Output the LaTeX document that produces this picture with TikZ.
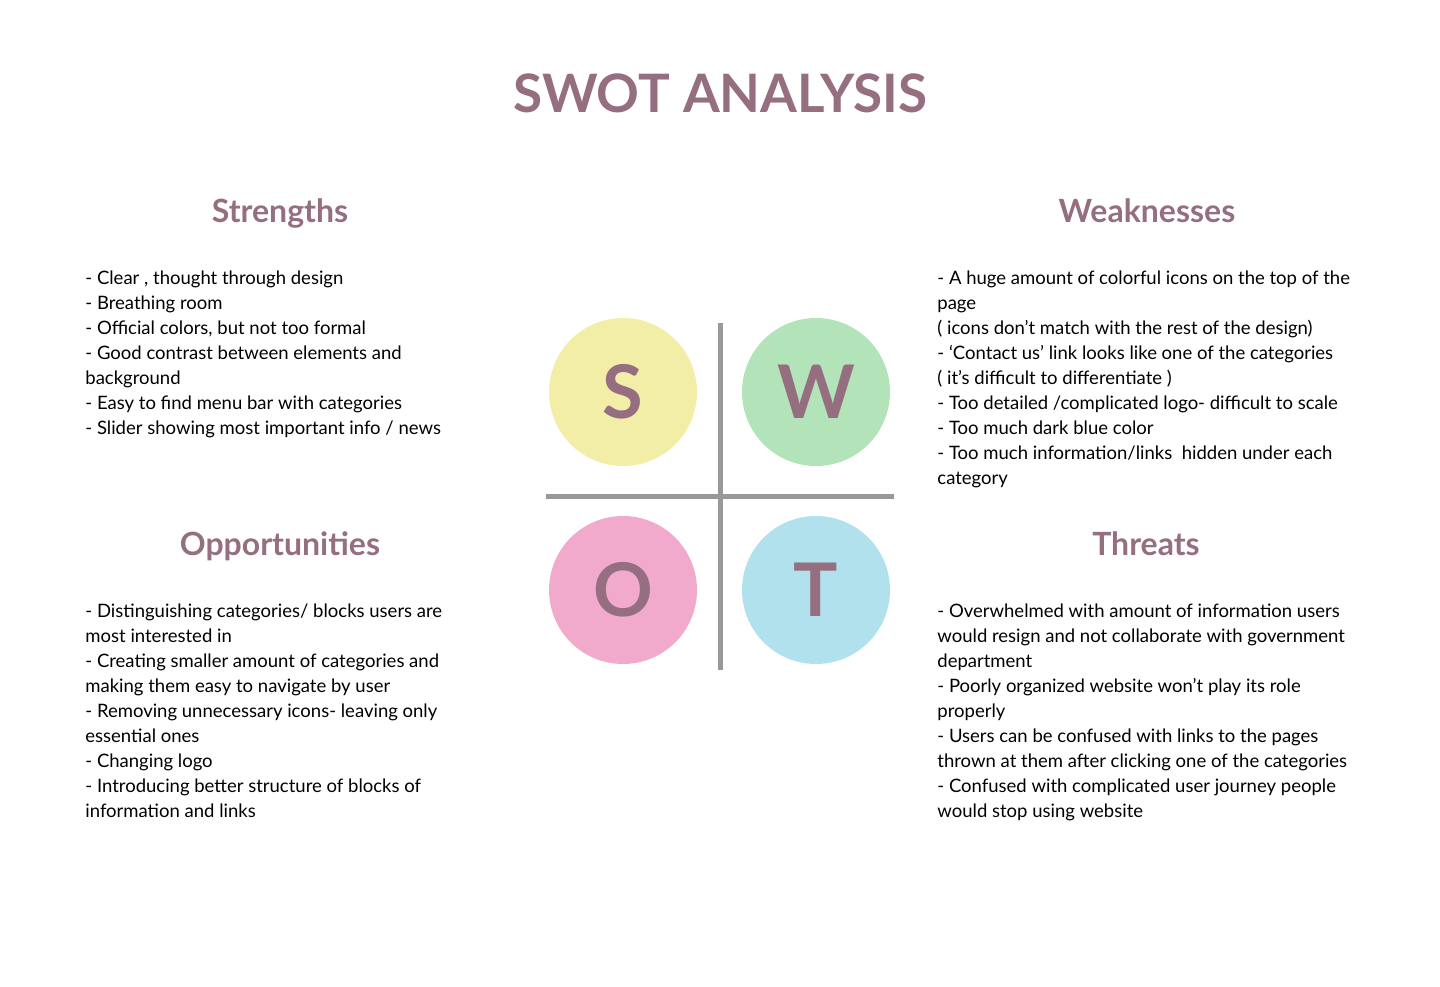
\documentclass[tikz,border=0pt]{standalone}
\usepackage{fontspec}
\setmainfont{Lato}
\usetikzlibrary{positioning}

\definecolor{mauve}{HTML}{956E80}
\definecolor{swotyellow}{HTML}{F2EEA8}
\definecolor{swotgreen}{HTML}{B3E3B8}
\definecolor{swotpink}{HTML}{F1AACB}
\definecolor{swotblue}{HTML}{B1E1EC}
\definecolor{crossgray}{HTML}{999999}

\tikzset{
  heading/.style={anchor=base, text=mauve, font=\fontsize{16}{19}\selectfont\bfseries},
  bodytext/.style={anchor=north west, inner sep=0pt, align=left,
    font=\fontsize{9.25}{12.5}\selectfont},
  letterdisc/.style={circle, minimum size=74pt, inner sep=0pt,
    text=mauve, font=\fontsize{37}{40}\selectfont\bfseries}
}

\begin{document}
\begin{tikzpicture}[x=0.5pt, y=-0.5pt]
    \useasboundingbox (0,0) rectangle (1440,986);

    % Title
    \node[text=mauve, anchor=base, font=\fontsize{26.5}{30}\selectfont\bfseries] (title) at (720,112) {SWOT ANALYSIS};

    % Headings
    \node[heading] (shead) at (280,222) {Strengths};
    \node[heading] (whead) at (1147,222) {Weaknesses};
    \node[heading] (ohead) at (280,555) {Opportunities};
    \node[heading] (thead) at (1146,555) {Threats};

    % Lists
    \node[bodytext] (slist) at (85,270) {- Clear , thought through design\\
      - Breathing room\\
      - Official colors, but not too formal\\
      - Good contrast between elements and\\
      background\\
      - Easy to find menu bar with categories\\
      - Slider showing most important info / news};
    \node[bodytext] (wlist) at (937,270) {- A huge amount of colorful icons on the top of the\\
      page\\
      ( icons don’t match with the rest of the design)\\
      - ‘Contact us’ link looks like one of the categories\\
      ( it’s difficult to differentiate )\\
      - Too detailed /complicated logo- difficult to scale\\
      - Too much dark blue color\\
      - Too much information/links\ \ hidden under each\\
      category};
    \node[bodytext] (olist) at (85,603) {- Distinguishing categories/ blocks users are\\
      most interested in\\
      - Creating smaller amount of categories and\\
      making them easy to navigate by user\\
      - Removing unnecessary icons- leaving only\\
      essential ones\\
      - Changing logo\\
      - Introducing better structure of blocks of\\
      information and links};
    \node[bodytext] (tlist) at (937,603) {- Overwhelmed with amount of information users\\
      would resign and not collaborate with government\\
      department\\
      - Poorly organized website won’t play its role\\
      properly\\
      - Users can be confused with links to the pages\\
      thrown at them after clicking one of the categories\\
      - Confused with complicated user journey people\\
      would stop using website};

    % Cross
    \draw[crossgray, line width=2.5pt] (720,323) -- (720,670);
    \draw[crossgray, line width=2.5pt] (546,496) -- (894,496);

    % Discs
    \node[letterdisc, fill=swotyellow] (sdisc) at (623,392) {S};
    \node[letterdisc, fill=swotgreen] (wdisc) at (816,392) {W};
    \node[letterdisc, fill=swotpink] (odisc) at (623,590) {O};
    \node[letterdisc, fill=swotblue] (tdisc) at (816,590) {T};
\end{tikzpicture}
\end{document}
